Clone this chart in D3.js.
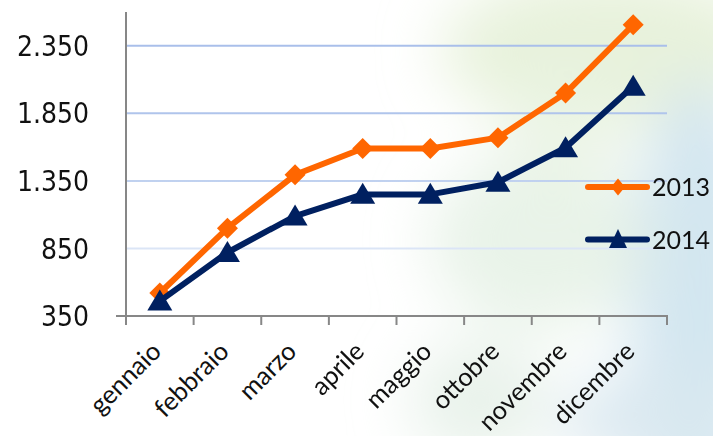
<!DOCTYPE html>
<html><head><meta charset="utf-8">
<script src="https://cdn.jsdelivr.net/npm/d3@7"></script>
<style>html,body{margin:0;padding:0;background:#fff;overflow:hidden}</style>
</head><body>
<svg id="c" width="713" height="436"></svg>
<script>
const months = ["gennaio","febbraio","marzo","aprile","maggio","ottobre","novembre","dicembre"];
const series2013 = [520, 1000, 1395, 1590, 1590, 1670, 2000, 2505];
const series2014 = [460, 820, 1090, 1250, 1250, 1340, 1595, 2050];
const yTicks = [350, 850, 1350, 1850, 2350];
const seriesNames = ["2013", "2014"];

const svg = d3.select("#c");
const defs = svg.append("defs");
defs.append("filter").attr("id","blur").attr("x","-50%").attr("y","-50%").attr("width","200%").attr("height","200%")
  .append("feGaussianBlur").attr("stdDeviation", 30);

// soft background
const bg = svg.append("g").attr("filter","url(#blur)");
[[610,50,170,80,"#e6f1d8",0.9],[700,300,70,220,"#d3e6f0",1],[540,240,110,90,"#e3f0e3",0.8],
 [480,400,70,60,"#e3efe6",0.8],[650,420,90,50,"#d9e8ef",0.9],[560,130,60,60,"#e9f3e4",0.7]]
 .forEach(([cx,cy,rx,ry,f,o])=>bg.append("ellipse").attr("cx",cx).attr("cy",cy).attr("rx",rx).attr("ry",ry).attr("fill",f).attr("opacity",o));

const x = d3.scaleBand().domain(months).range([126, 667]);
const y = d3.scaleLinear().domain([350, 2600]).range([316, 12]);

// gridlines
const grad = defs.append("linearGradient").attr("id","gg").attr("gradientUnits","userSpaceOnUse")
  .attr("x1",0).attr("y1",y(2350)).attr("x2",0).attr("y2",y(850));
grad.append("stop").attr("offset","0").attr("stop-color","#a9bfea");
grad.append("stop").attr("offset","0.5").attr("stop-color","#b3c7ec");
grad.append("stop").attr("offset","1").attr("stop-color","#dbe5f6");
svg.append("g").selectAll("line").data(yTicks.filter(d=>d>350)).join("line")
  .attr("x1",126).attr("x2",667).attr("y1",d=>y(d)).attr("y2",d=>y(d))
  .attr("stroke","url(#gg)").attr("stroke-width",2);

// y tick labels
svg.append("g").selectAll("text").data(yTicks).join("text")
  .attr("x",89).attr("y",d=>y(d)).attr("dy","0.36em").attr("text-anchor","end")
  .attr("font-family","'DejaVu Sans Condensed','DejaVu Sans',sans-serif").attr("font-stretch","condensed")
  .attr("font-size",28).attr("fill","#111")
  .text(d=>d3.format(",")(d).replace(",","."));

// axes
const axisC = "#878787";
svg.append("line").attr("x1",126).attr("x2",126).attr("y1",12).attr("y2",316).attr("stroke",axisC).attr("stroke-width",2);
svg.append("line").attr("x1",116).attr("x2",668).attr("y1",316).attr("y2",316).attr("stroke",axisC).attr("stroke-width",2);
const edges = months.map(m=>x(m)).concat([x.range()[1]]);
svg.append("g").selectAll("line").data(edges).join("line")
  .attr("x1",d=>d).attr("x2",d=>d).attr("y1",316).attr("y2",325).attr("stroke",axisC).attr("stroke-width",2);

// x labels
svg.append("g").selectAll("text").data(months).join("text")
  .attr("transform",d=>`translate(${x(d)+x.bandwidth()/2+3},353) rotate(-45)`)
  .attr("text-anchor","end").attr("font-family","Lato,sans-serif").attr("font-size",25.5).attr("fill","#111")
  .text(d=>d);

const cx = d=>x(d)+x.bandwidth()/2;
const line = d3.line().x((d,i)=>cx(months[i])).y(d=>y(d));
const colors = ["#ff6600","#002060"];
const diamond = s => `M0,${-s}L${s},0L0,${s}L${-s},0Z`;
const tri = (w,h) => `M0,${-h*0.55}L${w/2},${h*0.45}L${-w/2},${h*0.45}Z`;

[series2013, series2014].forEach((data,k)=>{
  svg.append("path").datum(data).attr("d",line).attr("fill","none")
    .attr("stroke",colors[k]).attr("stroke-width",6).attr("stroke-linejoin","round");
  svg.append("g").selectAll("path").data(data).join("path")
    .attr("transform",(d,i)=>`translate(${cx(months[i])},${y(d)})`)
    .attr("d", k===0 ? diamond(10.5) : tri(25,21))
    .attr("fill",colors[k]);
});

// legend
const legY = [187, 239.5];
seriesNames.forEach((name,k)=>{
  const g = svg.append("g").attr("transform",`translate(0,${legY[k]})`);
  g.append("line").attr("x1",588).attr("x2",647).attr("y1",0).attr("y2",0)
    .attr("stroke",colors[k]).attr("stroke-width",6).attr("stroke-linecap","round");
  g.append("path").attr("transform","translate(618,0)").attr("d", k===0 ? `M0,-8.5L7,0L0,8.5L-7,0Z` : tri(18,19)).attr("fill",colors[k]);
  g.append("text").attr("x",652).attr("y",0).attr("dy","0.36em").attr("font-family","Lato,sans-serif")
    .attr("font-size",25).attr("fill","#111").text(name);
});
</script>
</body></html>
